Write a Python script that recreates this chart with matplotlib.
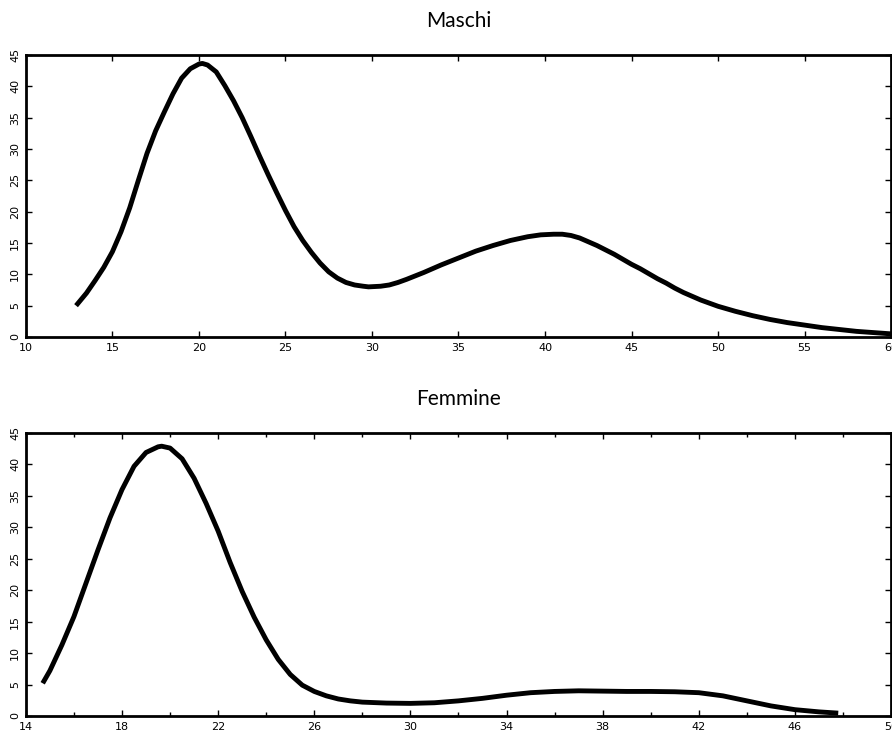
import matplotlib
matplotlib.use("Agg")
import matplotlib.pyplot as plt
import numpy as np

plt.rcParams['font.family'] = ['DejaVu Sans']

# age distribution, males
eta_m = [12.9, 13.5, 14, 14.5, 15, 15.5, 16, 16.5, 17, 17.5, 18, 18.5, 19, 19.5,
         20, 20.2, 20.5, 21, 21.5, 22, 22.5, 23, 23.5, 24, 24.5, 25, 25.5, 26,
         26.5, 27, 27.5, 28, 28.5, 29, 29.5, 29.8, 30.5, 31, 31.5, 32, 33, 34,
         35, 36, 37, 38, 39, 39.75, 40.5, 41, 41.5, 42, 42.5, 43, 43.5, 44, 44.5,
         45, 45.5, 46, 46.5, 47, 47.5, 48, 49, 50, 51, 52, 53, 54, 55, 56, 57,
         58, 59, 60]
val_m = [5.0, 7.0, 9.0, 11.1, 13.6, 16.8, 20.6, 25.0, 29.3, 32.9, 35.9, 38.8, 41.3, 42.8,
         43.55, 43.65, 43.4, 42.3, 40.1, 37.7, 35.0, 32.0, 28.9, 25.9, 23.0, 20.2, 17.6, 15.4,
         13.5, 11.8, 10.4, 9.4, 8.7, 8.3, 8.1, 8.0, 8.1, 8.3, 8.7, 9.2, 10.3, 11.5,
         12.6, 13.7, 14.6, 15.4, 16.0, 16.3, 16.4, 16.4, 16.2, 15.8, 15.2, 14.6, 13.9, 13.2, 12.4,
         11.6, 10.9, 10.1, 9.3, 8.6, 7.8, 7.1, 5.9, 4.9, 4.1, 3.4, 2.8, 2.3, 1.9, 1.5, 1.2,
         0.9, 0.7, 0.5]

# age distribution, females
eta_f = [14.7, 15, 15.5, 16, 16.5, 17, 17.5, 18, 18.5, 19, 19.5, 19.65, 20, 20.5,
         21, 21.5, 22, 22.5, 23, 23.5, 24, 24.5, 25, 25.5, 26, 26.5, 27, 27.5,
         28, 29, 30, 31, 32, 33, 34, 35, 36, 37, 38, 39, 40, 41, 42, 43, 44, 45,
         46, 47, 47.8]
val_f = [5.2, 7.2, 11.3, 15.8, 21.1, 26.4, 31.5, 36.0, 39.7, 41.9, 42.8, 42.9, 42.6, 40.9,
         37.8, 33.8, 29.4, 24.4, 19.8, 15.7, 12.1, 9.0, 6.6, 4.9, 3.9, 3.2, 2.7, 2.4,
         2.2, 2.05, 2.0, 2.1, 2.4, 2.8, 3.3, 3.7, 3.9, 4.0, 3.95, 3.9, 3.9, 3.85, 3.7, 3.2, 2.4, 1.6,
         1.0, 0.65, 0.45]

fig = plt.figure(figsize=(8.92, 7.35), dpi=100)
ax1 = fig.add_axes([0.029, 0.5415, 0.970, 0.3837])
ax2 = fig.add_axes([0.029, 0.0259, 0.970, 0.3850])


def style(ax, title, xmin, xmax, xmajor, xminor):
    ax.set_xlim(xmin, xmax)
    ax.set_ylim(0, 45)
    ax.set_xticks(np.arange(xmin, xmax + 0.1, xmajor))
    if xminor:
        ax.set_xticks(np.arange(xmin + xminor, xmax, xmajor), minor=True)
    ax.set_yticks(np.arange(0, 46, 5))
    ax.tick_params(which='both', direction='in', top=True, right=True,
                   labelsize=8, width=1, pad=4)
    ax.tick_params(which='major', length=4)
    ax.tick_params(which='minor', length=3)
    for lab in ax.get_yticklabels():
        lab.set_rotation(90)
        lab.set_va('center')
    for s in ax.spines.values():
        s.set_linewidth(2)
    ax.set_title(title, fontsize=15, color='black', pad=20,
                 family=['Lato', 'DejaVu Sans'])


ax1.plot(eta_m, val_m, color='black', lw=3.5, solid_capstyle='butt',
         solid_joinstyle='round')
style(ax1, 'Maschi', 10, 60, 5, None)

ax2.plot(eta_f, val_f, color='black', lw=3.5, solid_capstyle='butt',
         solid_joinstyle='round')
style(ax2, 'Femmine', 14, 50, 4, 2)

fig.savefig('out.png', dpi=100)
